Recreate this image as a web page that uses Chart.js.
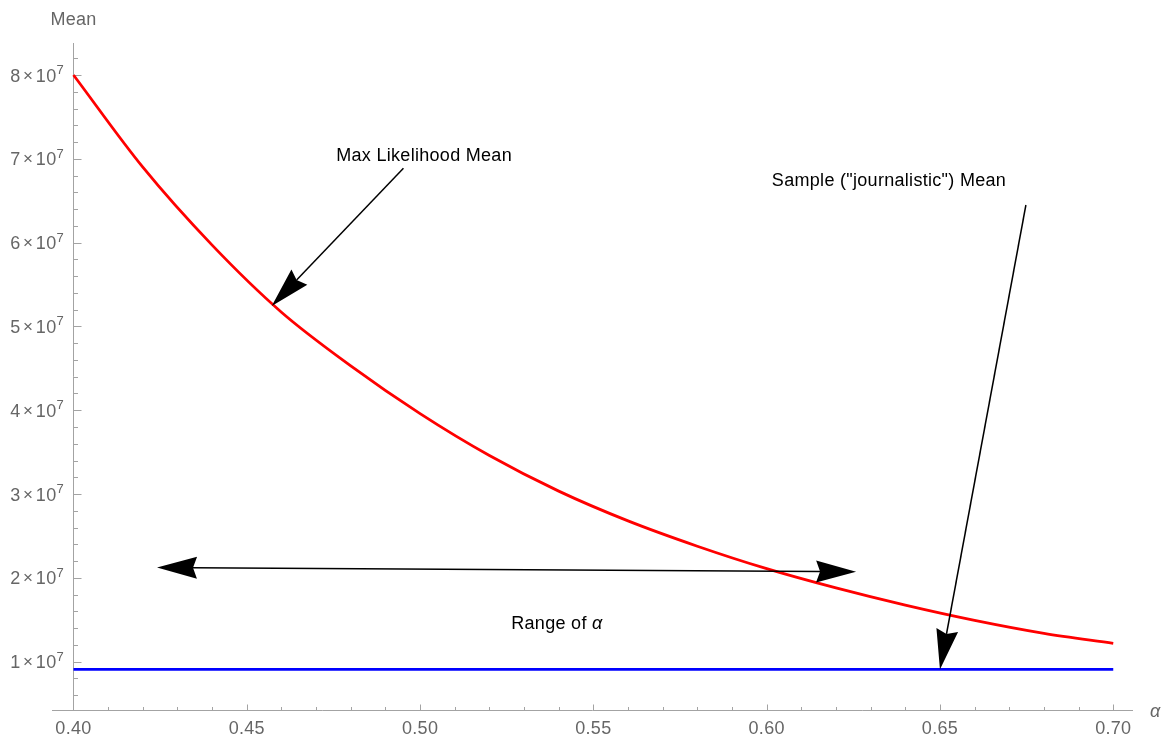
<!DOCTYPE html>
<html>
<head>
<meta charset="utf-8">
<script src="https://cdn.jsdelivr.net/npm/chart.js@4/dist/chart.umd.min.js"></script>
<style>
  html, body { margin: 0; padding: 0; background: #fff; }
  #chart { display: block; }
</style>
</head>
<body>
<canvas id="chart" width="1166" height="740"></canvas>
<script>
// values
var alpha = [0.40, 0.42, 0.44, 0.46, 0.48, 0.50, 0.52, 0.54, 0.56, 0.58, 0.60, 0.62, 0.64, 0.66, 0.68, 0.70];
var mlMean = [8.00e7, 6.90e7, 5.97e7, 5.17e7, 4.53e7, 3.96e7, 3.46e7, 3.035e7, 2.68e7, 2.378e7, 2.11e7, 1.88e7, 1.675e7, 1.493e7, 1.338e7, 1.218e7];
var sampleAlpha = [0.40, 0.70];
var sampleMean = [0.908e7, 0.908e7];

// axes
var xMin = 0.3938, xMax = 0.7057;
var yMin = 0.4236e7, yMax = 8.382e7;
var xTicks = [0.40, 0.45, 0.50, 0.55, 0.60, 0.65, 0.70];
var xTickLabels = ["0.40", "0.45", "0.50", "0.55", "0.60", "0.65", "0.70"];
var yTicks = [1e7, 2e7, 3e7, 4e7, 5e7, 6e7, 7e7, 8e7];
var yTickLabels = ["1", "2", "3", "4", "5", "6", "7", "8"];
var yExponent = "7";
var xAxisTitle = "\u03b1";
var yAxisTitle = "Mean";

// annotations (data coordinates)
var mlArrow = { from: [0.4952, 6.887e7], to: [0.4572, 5.243e7] };
var sampleArrow = { from: [0.6748, 6.449e7], to: [0.65, 0.908e7] };
var rangeArrow = { from: [0.4241, 2.125e7], to: [0.6258, 2.073e7] };
var notes = [
	{ text: "Max Likelihood Mean", at: [0.4758, 6.974e7] },
	{ text: "Sample (\"journalistic\") Mean", at: [0.6015, 6.675e7] },
];
var rangeNote = { text: "Range of ", greek: "\u03b1", at: [0.5263, 1.389e7] };

var font = "'Liberation Sans', Arial, sans-serif";

function pts(xs, ys) {
	var out = [];
	for (var i = 0; i < xs.length; i++) out.push({ x: xs[i], y: ys[i] });
	return out;
}

var axesPlugin = {
	id: "axes",
	beforeDatasetsDraw: function (chart) {
		var ctx = chart.ctx;
		var xs = chart.scales.x, ys = chart.scales.y, area = chart.chartArea;
		var x0 = Math.round(xs.getPixelForValue(0.40)) + 0.5;
		var yb = Math.round(area.bottom) + 0.5;
		ctx.save();
		ctx.strokeStyle = "#a3a3a3";
		ctx.lineWidth = 1;
		ctx.beginPath();
		ctx.moveTo(area.left, yb);
		ctx.lineTo(area.right, yb);
		ctx.moveTo(x0, area.top);
		ctx.lineTo(x0, yb);
		// x ticks, minor every 0.01
		for (var k = 40; k <= 70; k++) {
			var px = Math.round(xs.getPixelForValue(k / 100)) + 0.5;
			var len = k % 5 == 0 ? 6 : 3.5;
			ctx.moveTo(px, yb);
			ctx.lineTo(px, yb - len);
		}
		// y ticks, minor every 0.2e7
		for (var j = 3; j <= 41; j++) {
			var py = Math.round(ys.getPixelForValue(j * 0.2e7)) + 0.5;
			var l2 = j % 5 == 0 ? 8 : 4.5;
			ctx.moveTo(x0, py);
			ctx.lineTo(x0 + l2, py);
		}
		ctx.stroke();

		ctx.fillStyle = "#666666";
		ctx.letterSpacing = "0.3px";
		ctx.font = "18px " + font;
		ctx.textAlign = "center";
		ctx.textBaseline = "alphabetic";
		for (var i = 0; i < xTicks.length; i++) {
			ctx.fillText(xTickLabels[i], xs.getPixelForValue(xTicks[i]), area.bottom + 23.5);
		}
		ctx.fillText(yAxisTitle, x0, 25);
		ctx.textAlign = "left";
		ctx.font = "italic 18px " + font;
		ctx.fillText(xAxisTitle, 1150, 716.5);

		// y labels like 8 x 10^7
		ctx.textAlign = "right";
		for (var i = 0; i < yTicks.length; i++) {
			var y = ys.getPixelForValue(yTicks[i]);
			var cur = 64;
			ctx.font = "13px " + font;
			ctx.fillText(yExponent, cur, y - 1);
			cur -= ctx.measureText(yExponent).width;
			ctx.font = "18px " + font;
			ctx.fillText("10", cur, y + 6.5);
			cur -= ctx.measureText("10").width + 2.5;
			ctx.font = "17px " + font;
			ctx.fillText("\u00d7", cur, y + 5.5);
			cur -= ctx.measureText("\u00d7").width + 2.5;
			ctx.font = "18px " + font;
			ctx.fillText(yTickLabels[i], cur, y + 6.5);
		}
		ctx.restore();
	},
	afterDatasetsDraw: function (chart) {
		var ctx = chart.ctx;
		var xs = chart.scales.x, ys = chart.scales.y;
		function P(p) {
			return [xs.getPixelForValue(p[0]), ys.getPixelForValue(p[1])];
		}
		ctx.save();
		ctx.strokeStyle = "#000";
		ctx.fillStyle = "#000";
		ctx.lineWidth = 1.5;
		drawArrow(ctx, P(mlArrow.from), P(mlArrow.to), false);
		drawArrow(ctx, P(sampleArrow.from), P(sampleArrow.to), false);
		drawArrow(ctx, P(rangeArrow.from), P(rangeArrow.to), true);

		ctx.letterSpacing = "0.3px";
		ctx.font = "18px " + font;
		ctx.textAlign = "left";
		ctx.textBaseline = "alphabetic";
		for (var i = 0; i < notes.length; i++) {
			var q = P(notes[i].at);
			ctx.fillText(notes[i].text, q[0], q[1]);
		}
		var r = P(rangeNote.at);
		ctx.fillText(rangeNote.text, r[0], r[1]);
		var w = ctx.measureText(rangeNote.text).width;
		ctx.font = "italic 18px " + font;
		ctx.fillText(rangeNote.greek, r[0] + w, r[1]);
		ctx.restore();
	},
};

function arrowHead(ctx, tip, dx, dy) {
	var len = 40, half = 11, notch = 4;
	var nx = -dy, ny = dx;
	ctx.beginPath();
	ctx.moveTo(tip[0], tip[1]);
	ctx.lineTo(tip[0] - dx * len + nx * half, tip[1] - dy * len + ny * half);
	ctx.lineTo(tip[0] - dx * (len - notch), tip[1] - dy * (len - notch));
	ctx.lineTo(tip[0] - dx * len - nx * half, tip[1] - dy * len - ny * half);
	ctx.closePath();
	ctx.fill();
}

function drawArrow(ctx, a, b, both) {
	var dx = b[0] - a[0], dy = b[1] - a[1];
	var d = Math.sqrt(dx * dx + dy * dy);
	dx /= d;
	dy /= d;
	var s = both ? 36 : 0;
	ctx.beginPath();
	ctx.moveTo(a[0] + dx * s, a[1] + dy * s);
	ctx.lineTo(b[0] - dx * 36, b[1] - dy * 36);
	ctx.stroke();
	arrowHead(ctx, b, dx, dy);
	if (both) arrowHead(ctx, a, -dx, -dy);
}

var grafico = new Chart(document.getElementById("chart"), {
	type: "line",
	data: {
		datasets: [
			{
				data: pts(alpha, mlMean),
				borderColor: "#ff0000",
				borderWidth: 2.8,
				cubicInterpolationMode: "monotone",
				pointRadius: 0,
				fill: false,
			},
			{
				data: pts(sampleAlpha, sampleMean),
				borderColor: "#0000ff",
				borderWidth: 2.8,
				pointRadius: 0,
				fill: false,
			},
		],
	},
	options: {
		responsive: false,
		animation: false,
		devicePixelRatio: 1,
		layout: { padding: { left: 52, right: 33, top: 43, bottom: 30 } },
		plugins: {
			legend: { display: false },
			tooltip: { enabled: false },
		},
		scales: {
			x: { type: "linear", min: xMin, max: xMax, display: false },
			y: { type: "linear", min: yMin, max: yMax, display: false },
		},
	},
	plugins: [axesPlugin],
});
</script>
</body>
</html>
